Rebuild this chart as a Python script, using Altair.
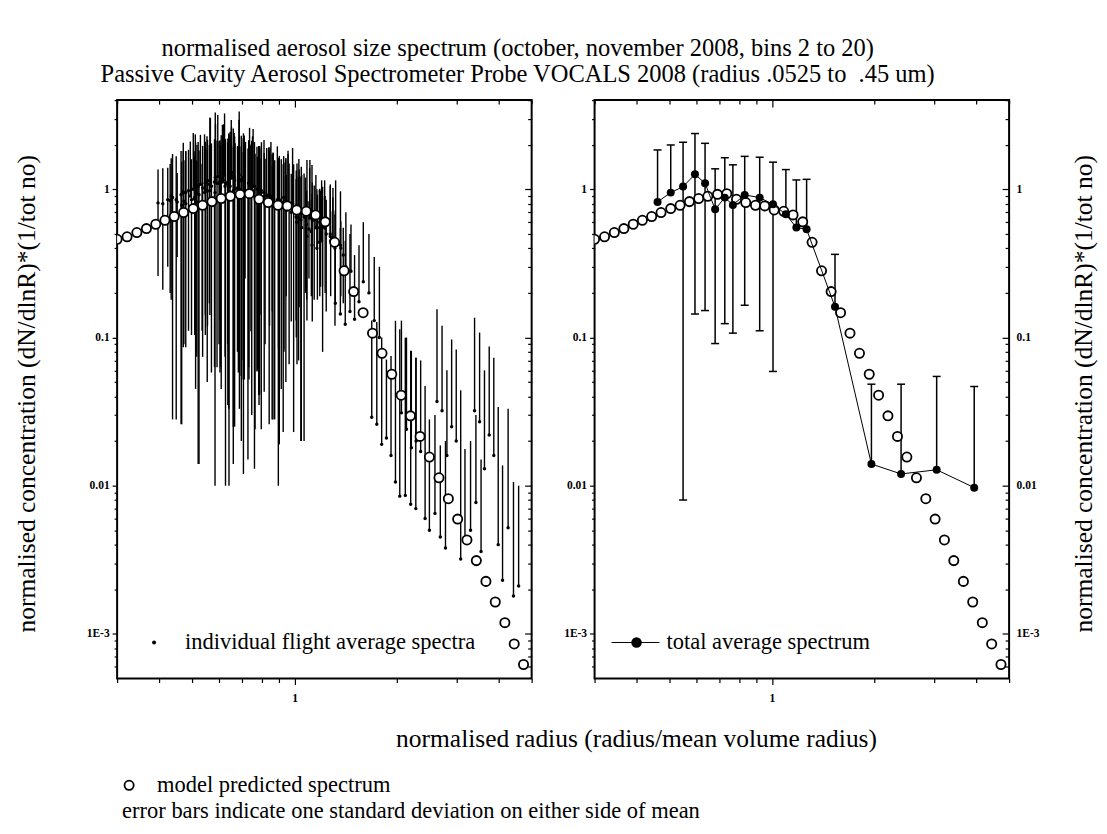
import altair as alt
import pandas as pd

FONT = "Liberation Serif"
W, H = 415, 579
XDOM = [0.3, 5.0]
YDOM = [5e-4, 4.0]

# ---------------- model predicted spectrum (open circles, both panels)
model_x = [0.300, 0.321, 0.343, 0.366, 0.390, 0.415, 0.442, 0.471, 0.503, 0.536, 0.571,
           0.608, 0.647, 0.691, 0.736, 0.786, 0.837, 0.894, 0.952, 1.015, 1.083, 1.154,
           1.232, 1.313, 1.400, 1.494, 1.593, 1.698, 1.811, 1.935, 2.062, 2.197, 2.344,
           2.498, 2.666, 2.841, 3.026, 3.223, 3.435, 3.666, 3.906, 4.169, 4.442, 4.732]
model_y = [0.460, 0.478, 0.511, 0.543, 0.581, 0.618, 0.655, 0.697, 0.741, 0.780, 0.826,
           0.866, 0.897, 0.925, 0.935, 0.856, 0.814, 0.780, 0.773, 0.726, 0.711, 0.672,
           0.603, 0.439, 0.282, 0.204, 0.147, 0.107, 0.0782, 0.0565, 0.0408, 0.0296, 0.0215,
           0.0156, 0.0113, 0.00817, 0.00595, 0.00430, 0.00312, 0.00226, 0.00164, 0.00119,
           0.000855, 0.000621]

# ---------------- total average spectrum (right panel)
avg_x = [0.460, 0.503, 0.547, 0.593, 0.635, 0.680, 0.726, 0.767, 0.831, 0.920, 1.007,
         1.099, 1.180, 1.265, 1.534, 1.964, 2.402, 3.058, 3.946]
avg_mean = [0.822, 0.950, 1.043, 1.262, 1.098, 0.733, 0.879, 0.785, 0.917, 0.879, 0.792,
            0.678, 0.552, 0.537, 0.161, 0.0140, 0.0120, 0.0128, 0.0097]
avg_sd = [1.022, 1.042, 1.035, 1.118, 0.946, 0.642, 0.755, 0.678, 0.752, 0.768, 0.733,
          0.681, 0.605, 0.631, 0.203, 0.0344, 0.0364, 0.0418, 0.0370]

# ---------------- individual flight average spectra (left panel)
x_f01 = [0.396, 0.433, 0.470, 0.510, 0.546, 0.585, 0.624, 0.660, 0.715, 0.791, 0.866, 0.945, 1.015, 1.088, 1.319, 1.689, 2.066, 2.630, 3.394]
mean_f01 = [0.81, 0.90, 0.95, 1.05, 1.10, 1.15, 1.05, 0.98, 0.95, 0.88, 0.80, 0.72, 0.60, 0.48, 0.170, 0.029, 0.031, 0.037, 0.032]
sd_f01 = [0.55, 0.72, 0.864, 1.30, 0.996, 1.60, 0.976, 0.966, 0.70, 0.738, 0.95, 0.53, 0.62, 0.35, 0.550, 0.101, 0.099, 0.118, 0.104]

x_f02 = [0.409, 0.448, 0.487, 0.528, 0.565, 0.605, 0.646, 0.683, 0.740, 0.819, 0.896, 0.978, 1.050, 1.126, 1.365, 1.748, 2.138, 2.722, 3.512]
mean_f02 = [0.80, 0.85, 0.98, 1.08, 1.12, 1.02, 0.95, 1.00, 0.90, 0.85, 0.82, 0.70, 0.55, 0.42, 0.144, 0.026, 0.024, 0.032, 0.027]
sd_f02 = [0.59, 0.822, 0.869, 1.25, 1.90, 0.957, 1.35, 0.942, 1.05, 0.76, 0.81, 0.572, 0.70, 0.52, 0.406, 0.101, 0.076, 0.088, 0.081]

x_f03 = [0.423, 0.463, 0.503, 0.546, 0.584, 0.626, 0.668, 0.706, 0.765, 0.846, 0.926, 1.011, 1.086, 1.164, 1.411, 1.807, 2.210, 2.813, 3.630]
mean_f03 = [0.85, 0.92, 1.00, 1.10, 1.20, 1.10, 1.00, 0.92, 0.88, 0.82, 0.75, 0.65, 0.58, 0.40, 0.123, 0.019, 0.018, 0.016, 0.013]
sd_f03 = [0.55, 0.894, 1.40, 0.958, 2.10, 1.09, 1.05, 0.868, 0.856, 1.10, 0.727, 0.52, 0.40, 0.60, 0.327, 0.081, 0.063, 0.044, 0.047]

x_f04 = [0.437, 0.478, 0.520, 0.563, 0.603, 0.646, 0.690, 0.729, 0.789, 0.874, 0.957, 1.044, 1.121, 1.202, 1.457, 1.866, 2.282, 2.905, 3.749]
mean_f04 = [0.88, 0.95, 1.05, 1.15, 1.10, 1.05, 1.00, 0.95, 0.85, 0.80, 0.78, 0.62, 0.52, 0.45, 0.150, 0.021, 0.020, 0.025, 0.022]
sd_f04 = [0.852, 0.864, 1.036, 1.90, 1.042, 1.40, 0.945, 0.935, 1.10, 0.772, 0.95, 0.60, 0.33, 0.70, 0.350, 0.050, 0.053, 0.072, 0.065]

x_f05 = [0.451, 0.493, 0.536, 0.581, 0.622, 0.666, 0.711, 0.752, 0.814, 0.902, 0.987, 1.077, 1.156, 1.240, 1.503, 1.925, 2.354, 2.997, 3.867]
mean_f05 = [0.82, 0.90, 1.02, 1.12, 1.25, 1.15, 1.05, 0.98, 0.90, 0.85, 0.80, 0.70, 0.55, 0.50, 0.133, 0.016, 0.017, 0.020, 0.016]
sd_f05 = [0.47, 1.20, 0.946, 1.057, 2.00, 1.125, 0.998, 1.30, 0.857, 0.831, 1.10, 0.50, 0.70, 0.35, 0.227, 0.059, 0.053, 0.063, 0.057]

x_f06 = [0.465, 0.508, 0.552, 0.599, 0.641, 0.687, 0.733, 0.775, 0.839, 0.929, 1.017, 1.110, 1.192, 1.278, 1.549, 1.984, 2.426, 3.089, 3.985]
mean_f06 = [0.78, 0.88, 0.98, 1.10, 1.20, 1.25, 1.10, 1.00, 0.92, 0.88, 0.78, 0.68, 0.60, 0.45, 0.174, 0.0106, 0.0060, 0.0032, 0.0040]
sd_f06 = [0.754, 0.776, 1.30, 1.01, 1.19, 2.10, 1.037, 0.941, 1.00, 0.796, 0.714, 0.90, 0.38, 0.26, 0.246, 0.119, 0.041, 0.0408, 0.030]

x_f07 = [0.478, 0.523, 0.569, 0.617, 0.660, 0.707, 0.755, 0.798, 0.864, 0.957, 1.047, 1.143, 1.227, 1.316, 1.595, 2.043, 2.498, 3.180, 4.104]
mean_f07 = [0.80, 0.92, 1.05, 1.15, 1.30, 1.20, 1.05, 0.95, 0.90, 0.82, 0.72, 0.62, 0.55, 0.40, 0.238, 0.0085, 0.0050, 0.0042, 0.0023]
sd_f07 = [1.00, 0.906, 0.992, 1.60, 1.275, 1.188, 1.50, 0.926, 0.872, 1.00, 0.70, 0.44, 0.60, 0.28, 0.362, 0.105, 0.023, 0.0135, 0.0114]

x_f08 = [0.497, 0.543, 0.591, 0.640, 0.686, 0.734, 0.784, 0.828, 0.897, 0.994, 1.088, 1.187, 1.274, 1.366, 1.657, 2.121, 2.594, 3.303, 4.262]
mean_f08 = [0.85, 0.95, 1.10, 1.20, 1.15, 1.10, 1.00, 0.90, 0.85, 0.75, 0.68, 0.60, 0.50, 0.42, 0.200, 0.0086, 0.0065, 0.0050, 0.0052]
sd_f08 = [0.746, 1.40, 1.037, 1.167, 1.80, 1.048, 0.959, 1.00, 0.766, 0.727, 0.90, 0.41, 0.55, 0.55, 0.300, 0.091, 0.0235, 0.015, 0.0278]

x_f09 = [0.515, 0.563, 0.613, 0.664, 0.711, 0.762, 0.813, 0.859, 0.931, 1.030, 1.128, 1.231, 1.322, 1.417, 1.718, 2.200, 2.690, 3.425, 4.420]
mean_f09 = [0.82, 0.98, 1.12, 1.22, 1.18, 1.05, 0.95, 0.88, 0.80, 0.70, 0.62, 0.55, 0.45, 0.30, 0.130, 0.0075, 0.0045, 0.0077, 0.0018]
sd_f09 = [0.746, 0.838, 1.60, 1.181, 1.125, 1.037, 1.20, 0.852, 0.72, 0.90, 0.492, 0.35, 0.70, 0.40, 0.220, 0.074, 0.0142, 0.0223, 0.0088]

x_f10 = [0.534, 0.583, 0.635, 0.688, 0.737, 0.789, 0.842, 0.890, 0.964, 1.067, 1.168, 1.275, 1.369, 1.467, 1.779, 2.278, 2.786, 3.547, 4.577]
mean_f10 = [0.80, 0.95, 1.08, 1.15, 1.10, 1.00, 0.92, 0.85, 0.78, 0.65, 0.55, 0.48, 0.40, 0.28, 0.100, 0.0070, 0.0038, 0.0036, 0.0021]
sd_f10 = [0.689, 0.94, 0.99, 1.117, 1.50, 0.959, 0.894, 1.10, 0.714, 0.63, 0.37, 0.60, 0.21, 0.30, 0.200, 0.066, 0.0162, 0.0114, 0.0079]

# flights with no data in the largest bins
x_f11 = [0.430, 0.470, 0.511, 0.554, 0.594, 0.636, 0.679, 0.717, 0.777, 0.860, 0.942, 1.028, 1.103, 1.183]
mean_f11 = [0.84, 0.96, 1.06, 1.14, 1.22, 1.12, 1.02, 0.94, 0.86, 0.80, 0.74, 0.64, 0.54, 0.44]
sd_f11 = [0.64, 1.10, 1.015, 1.02, 1.95, 1.085, 0.94, 1.15, 0.80, 0.65, 0.85, 0.57, 0.29, 0.55]

x_f12 = [0.472, 0.516, 0.561, 0.608, 0.651, 0.697, 0.744, 0.786, 0.852, 0.943, 1.032, 1.126, 1.210, 1.297]
mean_f12 = [0.83, 0.94, 1.08, 1.18, 1.24, 1.16, 1.06, 0.97, 0.89, 0.84, 0.76, 0.66, 0.56, 0.43]
sd_f12 = [0.74, 1.05, 0.91, 1.135, 1.70, 1.14, 0.95, 0.935, 1.20, 0.79, 0.60, 0.80, 0.48, 0.45]

x_f13 = [0.506, 0.553, 0.602, 0.652, 0.699, 0.748, 0.799, 0.844, 0.914, 1.012, 1.108, 1.209, 1.298, 1.392]
mean_f13 = [0.86, 0.97, 1.12, 1.19, 1.14, 1.08, 0.98, 0.89, 0.82, 0.72, 0.64, 0.56, 0.47, 0.36]
sd_f13 = [0.95, 0.92, 0.99, 1.45, 1.07, 1.05, 1.10, 0.77, 0.775, 0.62, 0.75, 0.34, 0.55, 0.19]

# ---------------- axis tick values and labels
x_major = [1]
x_minor = [0.3, 0.4, 0.5, 0.6, 0.7, 0.8, 0.9, 2, 3, 4, 5]
y_major = [1, 0.1, 0.01, 0.001]
y_minor = [2, 3, 4,
           0.2, 0.3, 0.4, 0.5, 0.6, 0.7, 0.8, 0.9,
           0.02, 0.03, 0.04, 0.05, 0.06, 0.07, 0.08, 0.09,
           0.002, 0.003, 0.004, 0.005, 0.006, 0.007, 0.008, 0.009,
           0.0006, 0.0007, 0.0008, 0.0009]
Y_LABEL_EXPR = ("datum.value >= 0.5 ? '1' : datum.value >= 0.05 ? '0.1' : "
                "datum.value >= 0.005 ? '0.01' : '1E-3'")

title_lines = ["normalised aerosol size spectrum (october, november 2008, bins 2 to 20)",
               "Passive Cavity Aerosol Spectrometer Probe VOCALS 2008 (radius .0525 to\u00a0 .45 um)"]
y_title = "normalised concentration (dN/dlnR)*(1/tot no)"
x_title = "normalised radius (radius/mean volume radius)"
legend_left = "individual flight average spectra"
legend_right = "total average spectrum"
note_model = "model predicted spectrum"
note_err = "error bars indicate one standard deviation on either side of mean"

# ---------------- tables
flights = [(x_f01, mean_f01, sd_f01), (x_f02, mean_f02, sd_f02), (x_f03, mean_f03, sd_f03),
           (x_f04, mean_f04, sd_f04), (x_f05, mean_f05, sd_f05), (x_f06, mean_f06, sd_f06),
           (x_f07, mean_f07, sd_f07), (x_f08, mean_f08, sd_f08), (x_f09, mean_f09, sd_f09),
           (x_f10, mean_f10, sd_f10), (x_f11, mean_f11, sd_f11), (x_f12, mean_f12, sd_f12),
           (x_f13, mean_f13, sd_f13)]
rows = []
for i, (xs_, ms_, ss_) in enumerate(flights):
    for xv, mv, sv in zip(xs_, ms_, ss_):
        rows.append({"flight": i + 1, "x": xv, "mean": mv, "top": mv + sv, "low": mv - sv})
fl = pd.DataFrame(rows)
fl_low = fl[fl["low"] > 0]

model = pd.DataFrame({"x": model_x, "y": model_y})
avg = pd.DataFrame({"x": avg_x, "mean": avg_mean})
avg["top"] = [m + s for m, s in zip(avg_mean, avg_sd)]
avg["low"] = [m - s for m, s in zip(avg_mean, avg_sd)]
avg_low = avg[avg["low"] > 0]

xs = alt.Scale(type="log", domain=XDOM, nice=False)
ys = alt.Scale(type="log", domain=YDOM, nice=False)


def axis(orient, values, size, offset=0, labels=False, expr=None, pad=3):
    kw = dict(orient=orient, values=values, tickSize=size, offset=offset, labels=labels,
              domain=False, grid=False, title=None, tickColor="black", tickWidth=1.2,
              ticks=True)
    if labels:
        kw.update(labelFont=FONT, labelFontSize=11.5, labelFontWeight="bold",
                  labelColor="black", labelPadding=pad)
        if expr:
            kw["labelExpr"] = expr
    return alt.Axis(**kw)


AX_B1 = axis("bottom", x_major, 6, labels=True, expr="'1'", pad=8)
AX_B2 = axis("bottom", x_minor, 4)
AX_T1 = axis("top", x_major, 7, offset=-7)
AX_T2 = axis("top", x_minor, 4, offset=-4)
AX_L1 = axis("left", y_major, 5, labels=True, expr=Y_LABEL_EXPR, pad=3)
AX_L2 = axis("left", y_minor, 3)
AX_R2 = axis("right", y_minor, 4, offset=-4)


def ax_r1(labels):
    return axis("right", y_major, 7, offset=-7, labels=labels, expr=Y_LABEL_EXPR, pad=7)


def text_layer(txt, x, y, size, angle=0, align="center", baseline="middle"):
    return alt.Chart(pd.DataFrame({"t": [txt]})).mark_text(
        font=FONT, fontSize=size, align=align, baseline=baseline, angle=angle, color="black"
    ).encode(text="t:N", x=alt.value(x), y=alt.value(y))


one = pd.DataFrame({"k": [0]})
TITLE_SIZE = 24.5
AXT_SIZE = 25.5
LEG_SIZE = 22.5
CIRCLE_SIZE = 85

# ---------------- left panel
l_up = alt.Chart(fl).mark_rule(color="black", strokeWidth=1.4).encode(
    x=alt.X("x:Q", scale=xs, axis=AX_B2),
    y=alt.Y("mean:Q", scale=ys, axis=AX_L2), y2="top:Q")
l_lo = alt.Chart(fl_low).mark_rule(color="black", strokeWidth=1.4).encode(
    x=alt.X("x:Q", scale=xs, axis=AX_T1),
    y=alt.Y("low:Q", scale=ys, axis=ax_r1(False)), y2="mean:Q")
l_dot = alt.Chart(fl).mark_circle(color="black", size=12, opacity=1).encode(
    x=alt.X("x:Q", scale=xs, axis=AX_T2),
    y=alt.Y("mean:Q", scale=ys, axis=AX_R2))
l_model = alt.Chart(model).mark_point(shape="circle", filled=False, fill="white", color="black",
                                      strokeWidth=1.8, size=CIRCLE_SIZE, opacity=1, clip=True).encode(
    x=alt.X("x:Q", scale=xs, axis=AX_B1),
    y=alt.Y("y:Q", scale=ys, axis=AX_L1))

leg_dot = alt.Chart(one).mark_circle(color="black", size=16, opacity=1).encode(
    x=alt.value(37), y=alt.value(543))
leg_note_circle = alt.Chart(one).mark_point(shape="circle", filled=False, fill="white",
                                            color="black", strokeWidth=1.8, size=CIRCLE_SIZE,
                                            opacity=1).encode(
    x=alt.value(12), y=alt.value(686))

left = alt.layer(
    l_up, l_lo, l_dot, l_model,
    leg_dot, text_layer(legend_left, 68, 543, LEG_SIZE, align="left"),
    text_layer(title_lines[0], 401, -51, TITLE_SIZE),
    text_layer(title_lines[1], 401, -25, TITLE_SIZE),
    text_layer(y_title, -90, 294, AXT_SIZE, angle=270),
    leg_note_circle,
    text_layer(note_model, 40, 693, LEG_SIZE, align="left", baseline="alphabetic"),
    text_layer(note_err, 5, 719, LEG_SIZE, align="left", baseline="alphabetic"),
).resolve_axis(x="independent", y="independent").properties(width=W, height=H)

# ---------------- right panel
r_up = alt.Chart(avg).mark_rule(color="black", strokeWidth=1.5).encode(
    x=alt.X("x:Q", scale=xs, axis=AX_B2),
    y=alt.Y("mean:Q", scale=ys, axis=AX_L2), y2="top:Q")
r_lo = alt.Chart(avg_low).mark_rule(color="black", strokeWidth=1.5).encode(
    x=alt.X("x:Q", scale=xs, axis=AX_T1),
    y=alt.Y("low:Q", scale=ys, axis=ax_r1(True)), y2="mean:Q")
r_cap_top = alt.Chart(avg).mark_tick(color="black", orient="horizontal", size=8,
                                     thickness=1.5, opacity=1).encode(
    x=alt.X("x:Q", scale=xs, axis=AX_T2),
    y=alt.Y("top:Q", scale=ys, axis=AX_R2))
r_cap_low = alt.Chart(avg_low).mark_tick(color="black", orient="horizontal", size=8,
                                         thickness=1.5, opacity=1).encode(
    x=alt.X("x:Q", scale=xs, axis=None),
    y=alt.Y("low:Q", scale=ys, axis=None))
r_model = alt.Chart(model).mark_point(shape="circle", filled=False, fill="white", color="black",
                                      strokeWidth=1.8, size=CIRCLE_SIZE, opacity=1, clip=True).encode(
    x=alt.X("x:Q", scale=xs, axis=AX_B1),
    y=alt.Y("y:Q", scale=ys, axis=AX_L1))
r_line = alt.Chart(avg).mark_line(color="black", strokeWidth=1).encode(
    x=alt.X("x:Q", scale=xs, axis=None),
    y=alt.Y("mean:Q", scale=ys, axis=None))
r_pts = alt.Chart(avg).mark_circle(color="black", size=64, opacity=1).encode(
    x=alt.X("x:Q", scale=xs, axis=None),
    y=alt.Y("mean:Q", scale=ys, axis=None))

leg_line = alt.Chart(one).mark_rule(color="black", strokeWidth=1).encode(
    x=alt.value(17), x2=alt.value(65), y=alt.value(543))
leg_pt = alt.Chart(one).mark_circle(color="black", size=110, opacity=1).encode(
    x=alt.value(42), y=alt.value(543))

right = alt.layer(
    r_up, r_lo, r_cap_top, r_cap_low, r_model, r_line, r_pts,
    leg_line, leg_pt, text_layer(legend_right, 72, 543, LEG_SIZE, align="left"),
    text_layer(x_title, 42, 640, AXT_SIZE),
    text_layer(y_title, 490, 294, AXT_SIZE, angle=270),
).resolve_axis(x="independent", y="independent").properties(width=W, height=H)

chart = alt.hconcat(left, right, spacing=63, bounds="flush").properties(
    padding={"left": 6.25, "top": 26.75, "right": 0, "bottom": 0},
    background="white",
).configure_view(stroke="black", strokeWidth=2)

chart.save("out.html", embed_options={"renderer": "svg", "actions": False})
